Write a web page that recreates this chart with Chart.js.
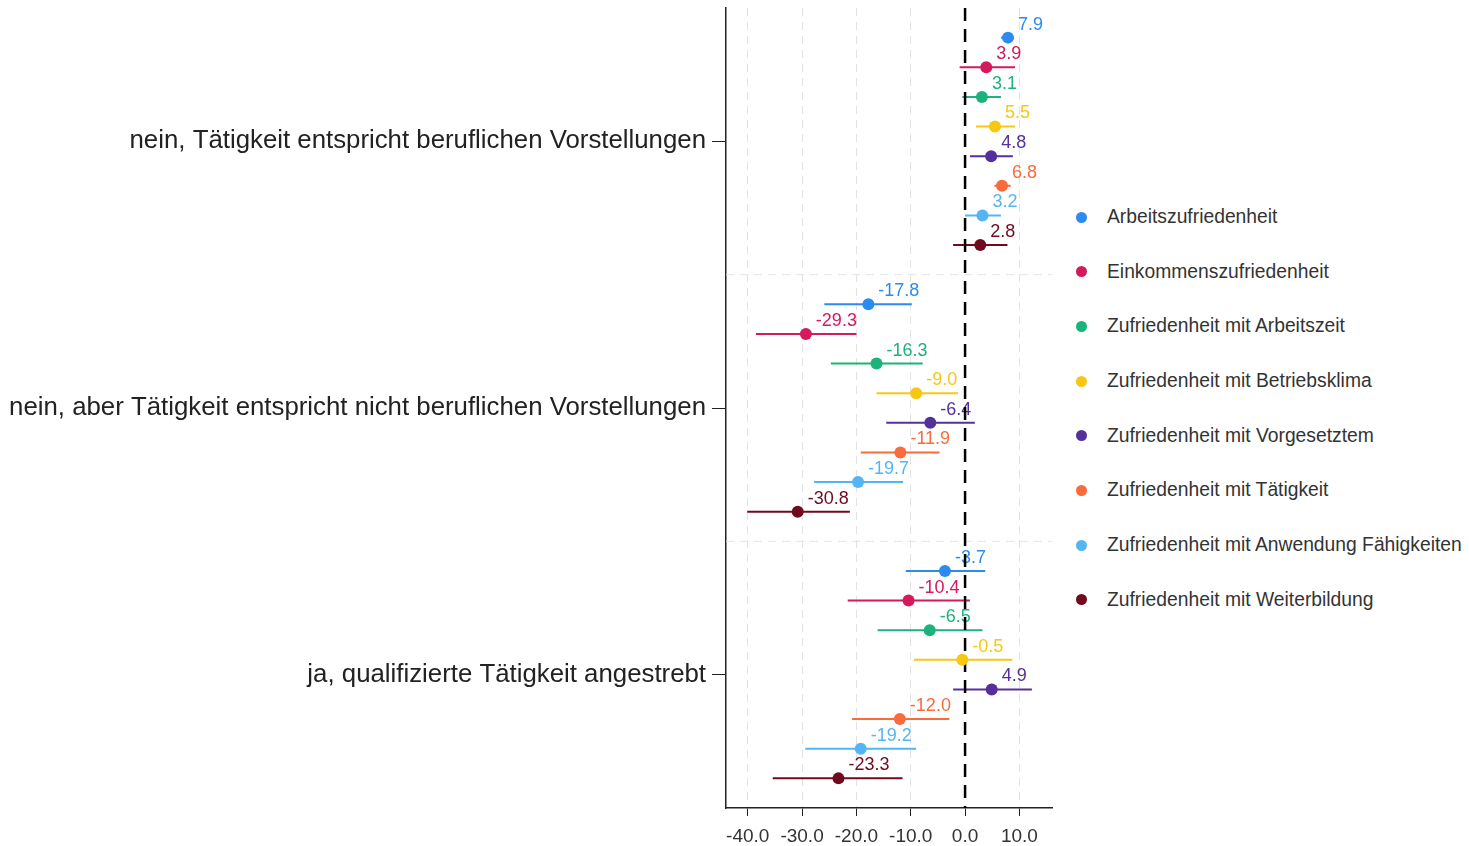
<!DOCTYPE html>
<html lang="de">
<head>
<meta charset="utf-8">
<title>Zufriedenheit nach Tätigkeit</title>
<script src="https://cdn.jsdelivr.net/npm/chart.js@4.4.1/dist/chart.umd.min.js"></script>
<style>
  html, body { margin: 0; padding: 0; background: #fff; }
  #wrap { position: relative; width: 1469px; height: 846px; overflow: hidden; }
  #chart { position: absolute; left: 0; top: 0; }
  #legend { position: absolute; left: 1076px; top: 206px; font-family: "Liberation Sans", Arial, sans-serif; font-size: 19.3px; line-height: 22px; color: #333; }
  #legend .item { height: 54.7px; display: flex; align-items: flex-start; white-space: nowrap; }
  #legend .dot { width: 11px; height: 11px; border-radius: 50%; margin: 5.5px 20px 0 0; flex: none; }
</style>
</head>
<body>
<div id="wrap">
  <canvas id="chart" width="1060" height="846"></canvas>
  <div id="legend"></div>
</div>
<script>
// ------------------------------------------------------------
// Daten: Schätzwerte mit Konfidenzintervallen je Zufriedenheit
// ------------------------------------------------------------
const categories = [
  "nein, Tätigkeit entspricht beruflichen Vorstellungen",
  "nein, aber Tätigkeit entspricht nicht beruflichen Vorstellungen",
  "ja, qualifizierte Tätigkeit angestrebt",
];

const seriesNames = [
  "Arbeitszufriedenheit",
  "Einkommenszufriedenheit",
  "Zufriedenheit mit Arbeitszeit",
  "Zufriedenheit mit Betriebsklima",
  "Zufriedenheit mit Vorgesetztem",
  "Zufriedenheit mit Tätigkeit",
  "Zufriedenheit mit Anwendung Fähigkeiten",
  "Zufriedenheit mit Weiterbildung",
];

const seriesColors = ["#2b8bee", "#d4195c", "#1bb37b", "#f8c712", "#55309c", "#f86b3c", "#54b5f4", "#6f0a1f"];

// je Reihe: Werte für die drei Kategorien
const estimates = [
  [7.9, -17.8, -3.7],
  [3.9, -29.3, -10.4],
  [3.1, -16.3, -6.5],
  [5.5, -9.0, -0.5],
  [4.8, -6.4, 4.9],
  [6.8, -11.9, -12.0],
  [3.2, -19.7, -19.2],
  [2.8, -30.8, -23.3],
];
const lowerCI = [
  [6.6, -25.9, -10.9],
  [-1.0, -38.5, -21.6],
  [-0.5, -24.7, -16.1],
  [2.0, -16.3, -9.4],
  [0.9, -14.5, -2.2],
  [5.4, -19.2, -20.8],
  [0.0, -27.8, -29.4],
  [-2.2, -40.1, -35.4],
];
const upperCI = [
  [9.0, -9.8, 3.7],
  [9.2, -20.0, 0.9],
  [6.6, -7.8, 3.2],
  [9.2, -1.3, 8.7],
  [8.8, 1.8, 12.3],
  [8.4, -4.7, -2.9],
  [6.6, -11.4, -9.0],
  [7.8, -21.2, -11.5],
];

const xTickValues = [-40, -30, -20, -10, 0, 10];

// Zeilenposition: 8 Reihen je Kategorie, eine Leerzeile dazwischen
const groupSize = seriesNames.length + 1;
const rowPos = (g, s) => g * groupSize + s;
const groupCenter = (g) => g * groupSize + (seriesNames.length - 1) / 2;

const FONT = "'Liberation Sans', Arial, sans-serif";

const errorBars = {
  id: "errorBars",
  beforeDatasetsDraw(chart) {
    const { ctx, chartArea, scales: { x, y } } = chart;
    ctx.save();

    // Trennlinien zwischen den Kategorien
    ctx.strokeStyle = "#e4e4e4";
    ctx.lineWidth = 1;
    ctx.setLineDash([8, 6]);
    for (let g = 1; g < categories.length; g++) {
      const py = y.getPixelForValue(g * groupSize - 1);
      ctx.beginPath();
      ctx.moveTo(chartArea.left, py);
      ctx.lineTo(chartArea.right, py);
      ctx.stroke();
    }

    // Konfidenzintervalle
    ctx.setLineDash([]);
    ctx.lineWidth = 2;
    seriesNames.forEach((_, s) => {
      ctx.strokeStyle = seriesColors[s];
      categories.forEach((_, g) => {
        const py = y.getPixelForValue(rowPos(g, s));
        ctx.beginPath();
        ctx.moveTo(x.getPixelForValue(lowerCI[s][g]), py);
        ctx.lineTo(x.getPixelForValue(upperCI[s][g]), py);
        ctx.stroke();
      });
    });

    // Wertebeschriftungen
    ctx.font = "18px " + FONT;
    ctx.textBaseline = "middle";
    ctx.textAlign = "left";
    seriesNames.forEach((_, s) => {
      ctx.fillStyle = seriesColors[s];
      categories.forEach((_, g) => {
        const px = x.getPixelForValue(estimates[s][g]);
        const py = y.getPixelForValue(rowPos(g, s));
        ctx.fillText(estimates[s][g].toFixed(1), px + 10, py - 13);
      });
    });

    // Nulllinie
    const x0 = x.getPixelForValue(0);
    ctx.strokeStyle = "#000";
    ctx.lineWidth = 2.5;
    ctx.setLineDash([13, 8]);
    ctx.beginPath();
    ctx.moveTo(x0, chartArea.top);
    ctx.lineTo(x0, chartArea.bottom);
    ctx.stroke();
    ctx.restore();
  },
};

const datasets = seriesNames.map((name, s) => ({
  label: name,
  data: categories.map((_, g) => ({ x: estimates[s][g], y: rowPos(g, s) })),
  backgroundColor: seriesColors[s],
  borderWidth: 0,
  pointRadius: 6,
}));

new Chart(document.getElementById("chart"), {
  type: "scatter",
  data: { datasets },
  options: {
    responsive: false,
    animation: false,
    layout: { padding: { top: 8, right: 8, left: 0, bottom: 0 } },
    plugins: { legend: { display: false }, tooltip: { enabled: false } },
    scales: {
      x: {
        min: -44,
        max: 16,
        afterBuildTicks: (scale) => { scale.ticks = xTickValues.map((v) => ({ value: v })); },
        afterFit: (scale) => { scale.height = 38; scale.paddingLeft = 0; scale.paddingRight = 0; },
        ticks: { color: "#333", font: { family: FONT, size: 19 }, padding: 9, maxRotation: 0, callback: (v) => Number(v).toFixed(1) },
        grid: {
          color: (c) => (c.tick && c.tick.value === 0 ? "rgba(0,0,0,0)" : "#e2e2e2"),
          tickColor: "#222",
          tickLength: 8,
          lineWidth: 1,
        },
        border: { color: "#222", width: 1.5, dash: [8, 6] },
      },
      y: {
        min: -1,
        max: categories.length * groupSize - 1,
        reverse: true,
        afterBuildTicks: (scale) => { scale.ticks = categories.map((_, g) => ({ value: groupCenter(g) })); },
        afterFit: (scale) => { scale.width = 726; scale.paddingTop = 0; scale.paddingBottom = 0; },
        ticks: {
          color: "#222",
          font: { family: FONT, size: 25.8 },
          padding: 6,
          callback: (v) => categories[Math.round((v - groupCenter(0)) / groupSize)],
        },
        grid: { drawOnChartArea: false, tickColor: "#222", tickLength: 14 },
        border: { color: "#222", width: 1.5 },
      },
    },
  },
  plugins: [errorBars],
});

document.getElementById("legend").innerHTML = seriesNames.map((n, s) => `
  <div class="item"><span class="dot" style="background:${seriesColors[s]}"></span><span>${n}</span></div>
`).join("");
</script>
</body>
</html>
